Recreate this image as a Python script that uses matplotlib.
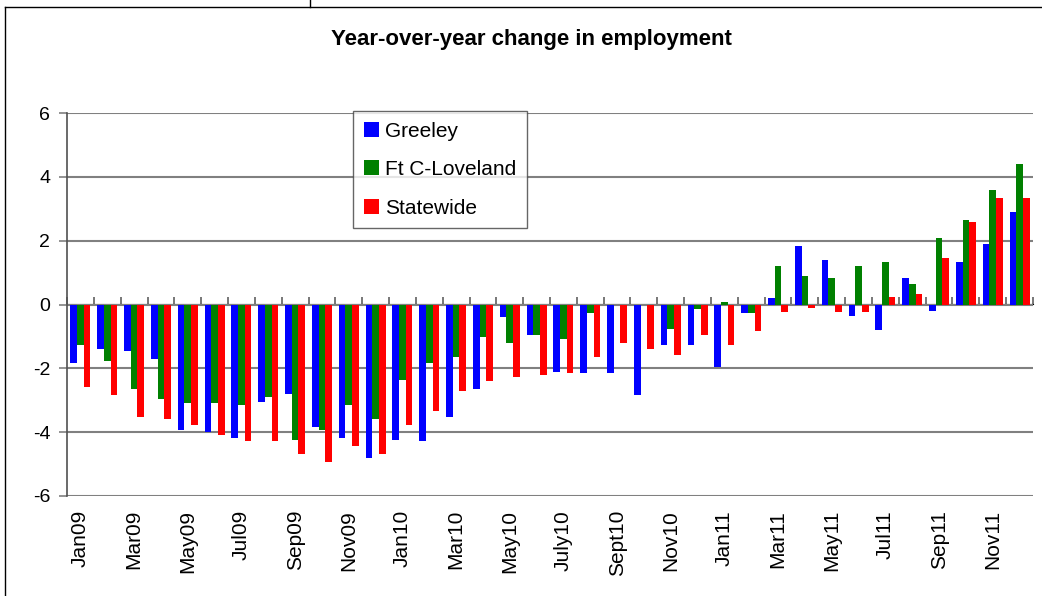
import matplotlib
matplotlib.use("Agg")
import matplotlib.pyplot as plt
from matplotlib.lines import Line2D
import numpy as np

months = ["Jan09","Feb09","Mar09","Apr09","May09","Jun09","Jul09","Aug09","Sep09","Oct09","Nov09","Dec09",
          "Jan10","Feb10","Mar10","Apr10","May10","Jun10","July10","Aug10","Sept10","Oct10","Nov10","Dec10",
          "Jan11","Feb11","Mar11","Apr11","May11","Jun11","Jul11","Aug11","Sep11","Oct11","Nov11","Dec11"]

greeley = [-1.84,-1.40,-1.47,-1.72,-3.92,-3.98,-4.17,-3.04,-2.79,-3.85,-4.17,-4.80,
           -4.23,-4.29,-3.54,-2.66,-0.40,-0.96,-2.10,-2.16,-2.16,-2.85,-1.28,-1.28,
           -1.97,-0.26,0.20,1.83,1.40,-0.37,-0.81,0.83,-0.19,1.33,1.90,2.90]
ftc = [-1.28,-1.78,-2.66,-2.97,-3.10,-3.10,-3.16,-2.91,-4.23,-3.92,-3.16,-3.60,
       -2.35,-1.84,-1.66,-1.03,-1.22,-0.96,-1.09,-0.27,0.0,0.0,-0.78,-0.15,
       0.07,-0.26,1.21,0.90,0.83,1.21,1.33,0.65,2.08,2.65,3.58,4.40]
statewide = [-2.60,-2.85,-3.54,-3.60,-3.79,-4.10,-4.29,-4.29,-4.67,-4.92,-4.42,-4.67,
             -3.79,-3.35,-2.72,-2.41,-2.28,-2.22,-2.16,-1.66,-1.22,-1.40,-1.59,-0.96,
             -1.28,-0.82,-0.25,-0.12,-0.25,-0.25,0.25,0.33,1.46,2.58,3.33,3.33]

series_names = ["Greeley", "Ft C-Loveland", "Statewide"]
colors = ["#0000FF", "#008000", "#FF0000"]
yticks = [-6, -4, -2, 0, 2, 4, 6]
label_every = 2

W, H = 1042, 596
fig = plt.figure(figsize=(W/100, H/100), dpi=100)
fig.patch.set_facecolor("white")
plt.rcParams['font.family'] = ['Liberation Sans', 'DejaVu Sans']

ax = fig.add_axes([67/W, 1 - 496/H, (1033-67)/W, (496-113)/H])
x = np.arange(len(months))
bw = 0.25
for i, (vals, c, name) in enumerate(zip([greeley, ftc, statewide], colors, series_names)):
    ax.bar(x + (i-1)*bw, vals, width=bw, color=c, label=name, zorder=3, linewidth=0)

ax.set_xlim(-0.5, len(months)-0.5)
ax.set_ylim(-6, 6)
ax.set_yticks(yticks)
ax.set_yticklabels([str(v) for v in yticks], fontsize=14)
ax.yaxis.grid(True, color="#808080", linewidth=1.5, zorder=0)
ax.set_axisbelow(True)
ax.tick_params(axis='y', direction='out', length=6, color="#808080", width=1.2, pad=6)

for s in ["top", "right", "bottom"]:
    ax.spines[s].set_visible(False)
ax.spines["left"].set_color("#505050")
ax.spines["left"].set_linewidth(1.2)

# labels along bottom
lab_pos = x[::label_every]
ax.set_xticks(lab_pos)
ax.set_xticklabels([months[i] for i in lab_pos], rotation=90, fontsize=15)
ax.tick_params(axis='x', length=0, pad=10)

# zero axis with boundary ticks
sec = ax.secondary_xaxis(0.5)
sec.set_xticks(np.arange(len(months)+1) - 0.5)
sec.set_xticklabels([])
sec.tick_params(axis='x', direction='out', length=5, color="#606060", width=1.2)
sec.spines["bottom"].set_color("#606060")
sec.spines["bottom"].set_linewidth(2)
sec.spines["bottom"].set_zorder(4)

leg = ax.legend(loc="upper left", bbox_to_anchor=((353-67)/(1033-67), (496-111)/(496-113)),
                fontsize=15, frameon=True, fancybox=False, edgecolor="#404040",
                handlelength=0.72, handleheight=0.72, handletextpad=0.3,
                labelspacing=0.93, borderpad=0.52, borderaxespad=0)
leg.get_frame().set_linewidth(1.0)
leg.set_zorder(5)

fig.text(531/W, 1 - 45/H, "Year-over-year change in employment", ha="center", va="baseline",
         fontsize=16, fontweight="bold")

# outer frame lines
fig.add_artist(Line2D([5/W, 1], [1-7/H, 1-7/H], color="black", linewidth=1))
fig.add_artist(Line2D([5/W, 5/W], [0, 1-7/H], color="black", linewidth=1))
fig.add_artist(Line2D([310/W, 310/W], [1-7/H, 1], color="black", linewidth=1))

fig.savefig("out.png", dpi=100)
